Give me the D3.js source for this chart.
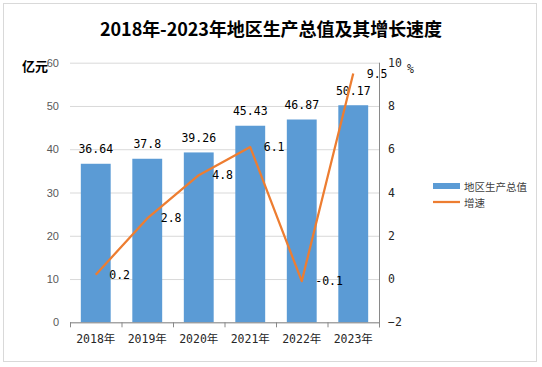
<!DOCTYPE html>
<html>
<head>
<meta charset="utf-8">
<script src="https://cdn.jsdelivr.net/npm/d3@7"></script>
<style>
  html, body { margin: 0; padding: 0; background: #fff; }
  svg { display: block; }
  .num { font-family: 'DejaVu Sans Mono', 'Noto Sans CJK SC', monospace; font-size: 11.5px; }
</style>
</head>
<body>
<div id="chart"></div>
<script>
// chart data
const years = ['2018年', '2019年', '2020年', '2021年', '2022年', '2023年'];
const gdp = [36.64, 37.8, 39.26, 45.43, 46.87, 50.17];
const growth = [0.2, 2.8, 4.8, 6.1, -0.1, 9.5];
const leftTicks = [0, 10, 20, 30, 40, 50, 60];
const rightTicks = [-2, 0, 2, 4, 6, 8, 10];
const legendNames = ['地区生产总值', '增速'];

const width = 542;
const height = 367;
const plot = { left: 70, right: 379, top: 62.7, bottom: 322.3 };
const barColor = '#5B9BD5';
const lineColor = '#ED7D31';

const svg = d3.select('#chart')
  .append('svg')
  .attr('width', width)
  .attr('height', height);

// outer frame
svg.append('rect')
  .attr('x', 3.5).attr('y', 3.5)
  .attr('width', 533).attr('height', 358)
  .attr('fill', '#fff')
  .attr('stroke', '#D9D9D9');

// title
svg.append('text')
  .attr('x', 271).attr('y', 28)
  .attr('text-anchor', 'middle')
  .attr('dominant-baseline', 'central')
  .attr('textLength', 342)
  .attr('lengthAdjust', 'spacing')
  .style('font-family', "'Noto Sans CJK SC', sans-serif")
  .style('font-weight', 'bold')
  .style('font-size', '18px')
  .style('fill', '#000')
  .text('2018年-2023年地区生产总值及其增长速度');

// scales
const x = d3.scaleBand()
  .domain(years)
  .range([plot.left, plot.right])
  .paddingInner(0.42)
  .paddingOuter(0.21);

const y = d3.scaleLinear()
  .domain([0, 60])
  .range([plot.bottom, plot.top]);

const y2 = d3.scaleLinear()
  .domain([-2, 10])
  .range([plot.bottom, plot.top]);

// left axis + grid
svg.append('g')
  .attr('transform', `translate(${plot.left},0)`)
  .call(d3.axisLeft(y).tickValues(leftTicks).tickSize(-(plot.right - plot.left)).tickPadding(11))
  .call((g) => g.select('.domain').remove())
  .call((g) => g.selectAll('.tick line').attr('stroke', '#D9D9D9'))
  .call((g) => g.selectAll('.tick text')
    .style('font-family', "'Liberation Sans', Arial, sans-serif")
    .style('font-size', '11px')
    .style('fill', '#595959'));

// bars
svg.append('g')
  .selectAll('rect')
  .data(gdp)
  .enter()
  .append('rect')
  .attr('x', (d, i) => x(years[i]))
  .attr('y', (d) => y(d))
  .attr('width', x.bandwidth())
  .attr('height', (d) => y(0) - y(d))
  .attr('fill', barColor);

// x axis
const step = x.step();
const xAxis = svg.append('g')
  .attr('transform', `translate(0,${plot.bottom})`)
  .call(d3.axisBottom(x).tickSize(0))
  .call((g) => g.select('.domain').attr('stroke', '#898989').attr('d', `M${plot.left},0.5H${plot.right}`))
  .call((g) => g.selectAll('.tick text')
    .attr('class', 'num')
    .attr('y', 17)
    .attr('dy', '0.35em')
    .style('fill', '#262626'));

xAxis.append('g')
  .selectAll('line')
  .data(d3.range(years.length + 1))
  .enter()
  .append('line')
  .attr('x1', (i) => plot.left + i * step + 0.5)
  .attr('x2', (i) => plot.left + i * step + 0.5)
  .attr('y1', 0)
  .attr('y2', 5)
  .attr('stroke', '#898989');

// right axis
svg.append('g')
  .attr('transform', `translate(${plot.right},0)`)
  .call(d3.axisRight(y2).tickValues(rightTicks).tickSize(0).tickPadding(9))
  .call((g) => g.select('.domain').attr('stroke', '#898989').attr('d', `M0.5,${plot.top}V${plot.bottom + 5}`))
  .call((g) => g.selectAll('.tick text')
    .attr('class', 'num')
    .style('fill', '#262626'));

// unit labels
svg.append('text')
  .attr('x', 22).attr('y', 65)
  .attr('dominant-baseline', 'central')
  .style('font-family', "'Noto Sans CJK SC', sans-serif")
  .style('font-weight', 'bold')
  .style('font-size', '13px')
  .text('亿元');

svg.append('text')
  .attr('class', 'num')
  .attr('x', 407).attr('y', 68.5)
  .attr('dominant-baseline', 'central')
  .style('fill', '#262626')
  .text('%');

// bar value labels
svg.append('g')
  .selectAll('text')
  .data(gdp)
  .enter()
  .append('text')
  .attr('class', 'num')
  .attr('x', (d, i) => x(years[i]) + x.bandwidth() / 2)
  .attr('y', (d) => y(d) - 10.5)
  .attr('text-anchor', 'middle')
  .style('fill', '#000')
  .text((d) => d);

// growth line
const line = d3.line()
  .x((d, i) => x(years[i]) + x.bandwidth() / 2)
  .y((d) => y2(d));

svg.append('path')
  .datum(growth)
  .attr('fill', 'none')
  .attr('stroke', lineColor)
  .attr('stroke-width', 2.25)
  .attr('stroke-linejoin', 'round')
  .attr('d', line);

svg.append('g')
  .selectAll('text')
  .data(growth)
  .enter()
  .append('text')
  .attr('class', 'num')
  .attr('x', (d, i) => x(years[i]) + x.bandwidth() / 2 + 13.5)
  .attr('y', (d) => y2(d))
  .attr('dy', '0.35em')
  .style('fill', '#000')
  .text((d) => d);

// legend
const legend = svg.append('g').attr('transform', 'translate(433,0)');

legend.append('rect')
  .attr('x', 0).attr('y', 183)
  .attr('width', 27).attr('height', 6)
  .attr('fill', barColor);

legend.append('line')
  .attr('x1', 0).attr('x2', 27)
  .attr('y1', 202).attr('y2', 202)
  .attr('stroke', lineColor)
  .attr('stroke-width', 2.25);

legend.selectAll('text')
  .data(legendNames)
  .enter()
  .append('text')
  .attr('x', 31)
  .attr('y', (d, i) => 186.5 + i * 15.5)
  .attr('dominant-baseline', 'central')
  .style('font-family', "'Noto Sans CJK SC', sans-serif")
  .style('font-size', '10.5px')
  .style('fill', '#404040')
  .text((d) => d);
</script>
</body>
</html>
